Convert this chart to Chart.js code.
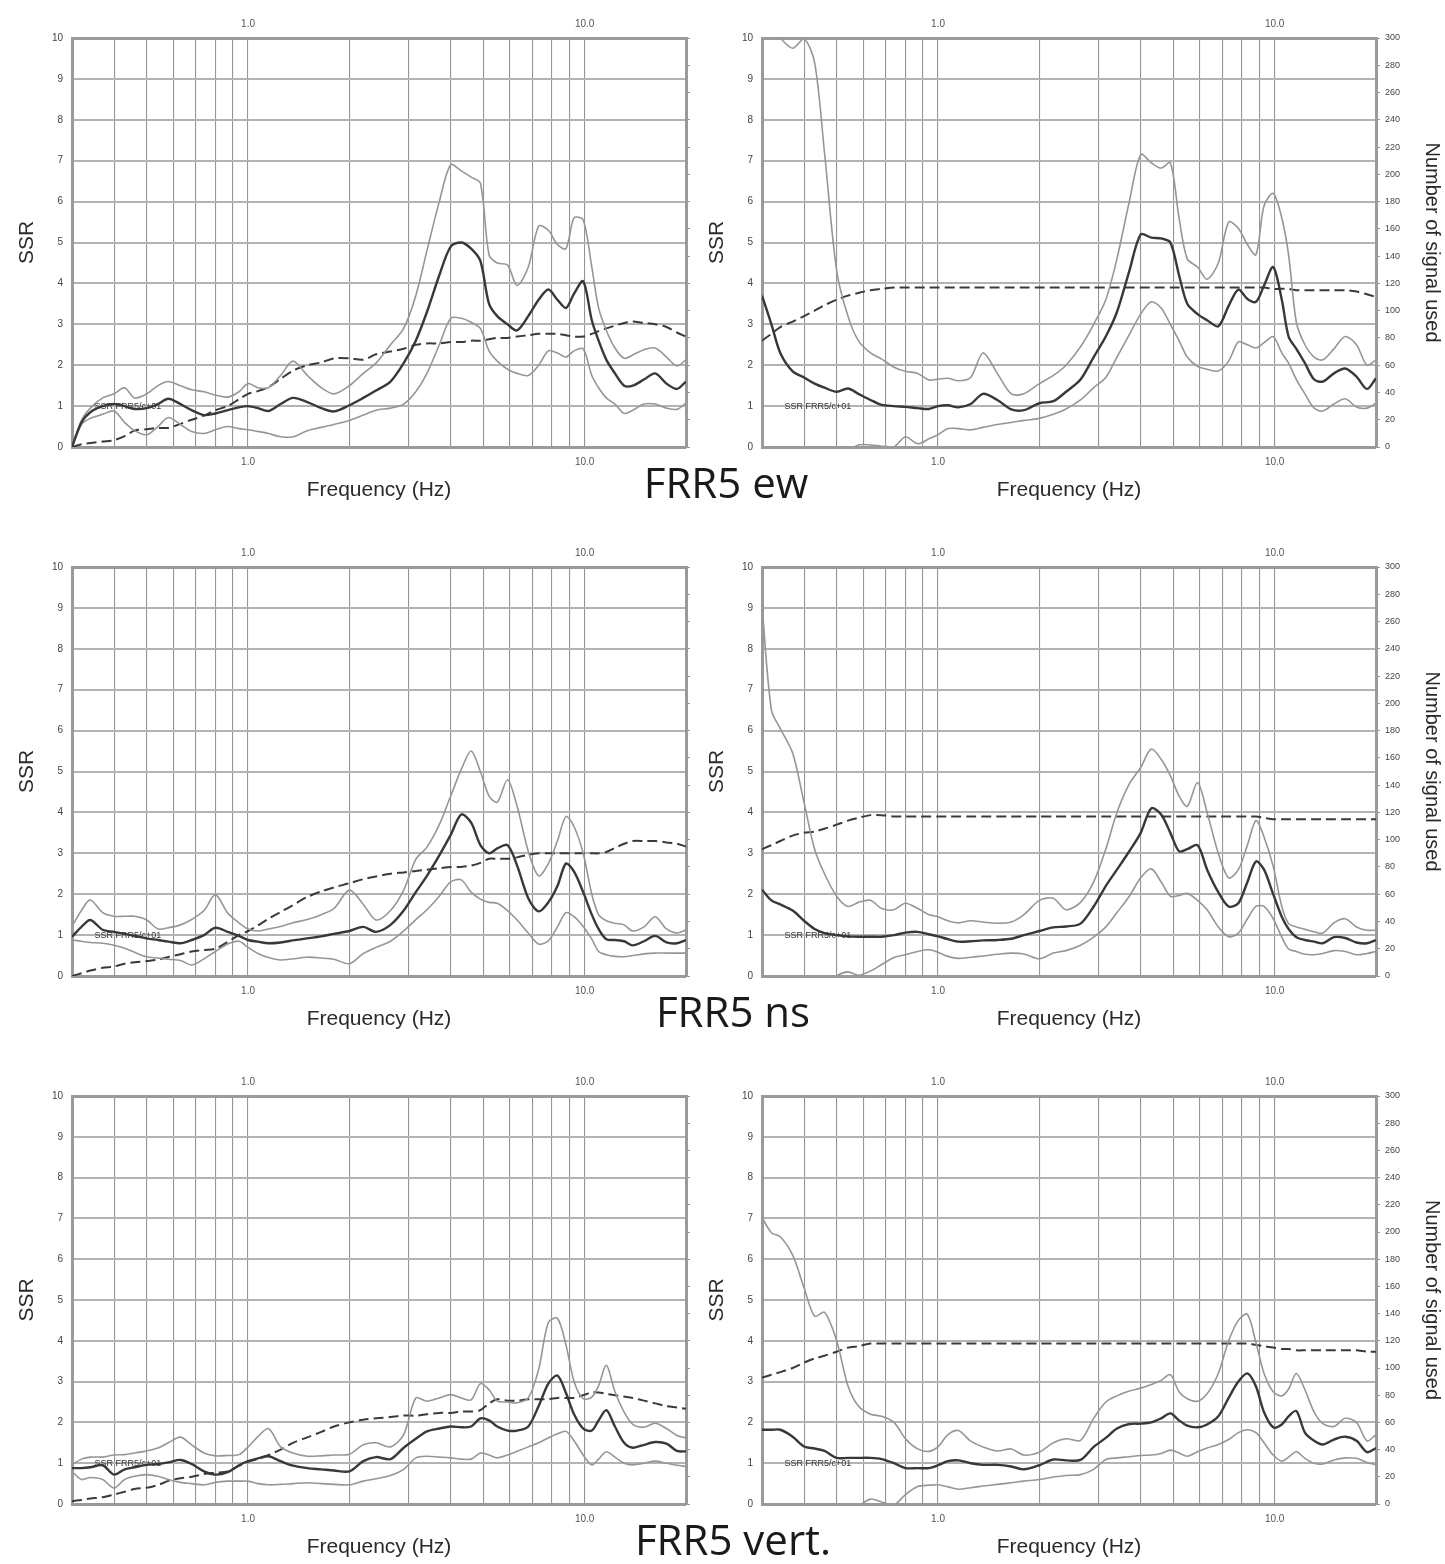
<!DOCTYPE html>
<html>
<head>
<meta charset="utf-8">
<script src="https://cdn.jsdelivr.net/npm/chart.js@4.4.1/dist/chart.umd.min.js"></script>
<style>
  body { margin: 0; background: #fff; width: 1445px; height: 1564px; position: relative; overflow: hidden; }
  canvas { position: absolute; }
  .titulo { position: absolute; font-family: "Open Sans", sans-serif; font-size: 42px; color: #1a1a1a;
            transform: translate(-50%, -50%); white-space: nowrap; }
</style>
</head>
<body>
<canvas id="ewL"></canvas>
<canvas id="ewR"></canvas>
<canvas id="nsL"></canvas>
<canvas id="nsR"></canvas>
<canvas id="vtL"></canvas>
<canvas id="vtR"></canvas>
<div class="titulo" style="left:726px; top:481px;">FRR5 ew</div>
<div class="titulo" style="left:733px; top:1010px;">FRR5 ns</div>
<div class="titulo" style="left:733px; top:1538px;">FRR5 vert.</div>
<script>
// frecuencias (Hz) comunes a todas las curvas
const freq = [0.30, 0.32, 0.34, 0.37, 0.40, 0.43, 0.46, 0.50, 0.54, 0.58,
              0.63, 0.68, 0.74, 0.80, 0.87, 0.94, 1.0, 1.07, 1.15, 1.25,
              1.36, 1.5, 1.65, 1.8, 2.0, 2.2, 2.4, 2.65, 2.9, 3.15,
              3.4, 3.7, 4.0, 4.3, 4.6, 4.9, 5.2, 5.5, 5.9, 6.3,
              6.8, 7.3, 7.8, 8.3, 8.8, 9.3, 9.9, 10.5, 11.0, 11.6,
              12.3, 13.1, 13.9, 15.0, 16.2, 17.5, 18.8, 20.0];

// lineas verticales de la rejilla
const gridFreq = [0.3, 0.4, 0.5, 0.6, 0.7, 0.8, 0.9, 1, 2, 3, 4, 5, 6, 7, 8, 9, 10, 20];
const labelText = 'SSR FRR5/c+01';

// --- FRR5 ew, izquierda ---
const ewLeftHigh = [0, 0.65, 0.95, 1.2, 1.3, 1.45, 1.2, 1.3, 1.5, 1.6,
  1.5, 1.4, 1.35, 1.27, 1.22, 1.35, 1.55, 1.45, 1.45, 1.75,
  2.1, 1.75, 1.45, 1.3, 1.5, 1.8, 2.05, 2.5, 2.9, 3.7,
  4.8, 6.0, 6.9, 6.75, 6.6, 6.45, 4.7, 4.5, 4.45, 3.95,
  4.4, 5.4, 5.3, 4.95, 4.85, 5.6, 5.55, 4.4, 3.4, 2.85,
  2.42, 2.17, 2.25, 2.38, 2.42, 2.2, 1.98, 2.13];
const ewLeftMean = [0, 0.6, 0.85, 1.0, 1.05, 1.0, 0.93, 0.95, 1.05, 1.18,
  1.05, 0.9, 0.78, 0.82, 0.9, 0.97, 1.0, 0.95, 0.88, 1.05,
  1.2, 1.1, 0.95, 0.87, 1.02, 1.2, 1.38, 1.6, 2.05, 2.6,
  3.3, 4.2, 4.9, 5.0, 4.85, 4.55, 3.5, 3.2, 3.0, 2.85,
  3.2, 3.6, 3.85, 3.6, 3.4, 3.75, 4.05, 3.1, 2.6, 2.13,
  1.8, 1.5, 1.5, 1.65, 1.8, 1.55, 1.42, 1.6];
const ewLeftLow = [0, 0.55, 0.7, 0.8, 0.88, 0.6, 0.4, 0.3, 0.5, 0.72,
  0.55, 0.38, 0.33, 0.42, 0.5, 0.45, 0.42, 0.38, 0.33, 0.25,
  0.25, 0.4, 0.48, 0.55, 0.65, 0.78, 0.9, 0.95, 1.05, 1.35,
  1.8, 2.5, 3.15, 3.15, 3.05, 2.9, 2.35, 2.1, 1.9, 1.8,
  1.75, 2.0, 2.35, 2.3, 2.2, 2.35, 2.4, 1.75, 1.45, 1.2,
  1.05, 0.82, 0.9, 1.05, 1.05, 0.95, 0.92, 1.07];
const ewLeftCount = [0, 2, 3, 4, 5, 8, 12, 13, 14, 14,
  17, 20, 23, 27, 30, 35, 39, 41, 44, 50,
  56, 60, 62, 65, 65, 64, 68, 70, 72, 75,
  76, 76, 77, 77, 78, 78, 79, 80, 80, 81,
  82, 83, 83, 83, 82, 81, 81, 83, 85, 87,
  89, 91, 92, 91, 90, 88, 84, 81];

// --- FRR5 ew, derecha ---
const ewRightHigh = [10.3, 10.3, 10.0, 9.75, 9.98, 9.4, 7.2, 4.3, 3.2, 2.6,
  2.3, 2.15, 1.95, 1.85, 1.8, 1.64, 1.66, 1.68, 1.62, 1.7,
  2.3, 1.8, 1.3, 1.3, 1.55, 1.75, 2.0, 2.45, 3.0, 3.6,
  4.6, 6.0, 7.15, 6.95, 6.82, 6.95, 5.6, 4.6, 4.4, 4.1,
  4.5, 5.5, 5.35, 4.95, 4.7, 5.9, 6.2, 5.6, 4.7, 3.05,
  2.5, 2.2, 2.13, 2.4, 2.7, 2.5, 2.0, 2.13];
const ewRightMean = [3.7, 3.0, 2.3, 1.85, 1.7, 1.55, 1.45, 1.35, 1.43, 1.3,
  1.15, 1.03, 1.0, 0.98, 0.95, 0.93, 1.0, 1.02, 0.97, 1.05,
  1.3, 1.15, 0.92, 0.9, 1.07, 1.12, 1.35, 1.65, 2.2, 2.7,
  3.3, 4.3, 5.2, 5.12, 5.1, 5.0, 4.2, 3.5, 3.25, 3.1,
  2.95, 3.45, 3.85, 3.62, 3.55, 3.95, 4.4, 3.6, 2.7, 2.4,
  2.05, 1.65, 1.6, 1.8, 1.92, 1.72, 1.42, 1.68];
const ewRightLow = [-1.2, -1.2, -1.2, -1.2, -1.1, -0.8, -0.5, -0.3, -0.1, 0.05,
  0.05, 0.02, 0.0, 0.25, 0.08, 0.2, 0.3, 0.45, 0.45, 0.42,
  0.48, 0.55, 0.6, 0.65, 0.7, 0.8, 0.93, 1.15, 1.45, 1.7,
  2.2, 2.75, 3.25, 3.55, 3.4, 3.0, 2.6, 2.2, 1.97, 1.9,
  1.86, 2.1, 2.57, 2.5, 2.42, 2.55, 2.7, 2.3, 2.05, 1.65,
  1.3, 0.95, 0.88, 1.05, 1.18, 0.98, 0.95, 1.07];
const ewRightCount = [78, 83, 88, 92, 96, 100, 104, 108, 111, 113,
  115, 116, 117, 117, 117, 117, 117, 117, 117, 117,
  117, 117, 117, 117, 117, 117, 117, 117, 117, 117,
  117, 117, 117, 117, 117, 117, 117, 117, 117, 117,
  117, 117, 117, 117, 117, 117, 116, 116, 116, 115,
  115, 115, 115, 115, 115, 114, 112, 110];

// --- FRR5 ns, izquierda ---
const nsLeftHigh = [1.21, 1.6, 1.86, 1.55, 1.46, 1.46, 1.46, 1.37, 1.15, 1.18,
  1.25, 1.38, 1.6, 1.99, 1.54, 1.3, 1.15, 1.1, 1.15, 1.21,
  1.3, 1.38, 1.5, 1.65, 2.1, 1.75, 1.37, 1.6, 2.1, 2.85,
  3.15, 3.7, 4.4, 5.05, 5.5, 5.0, 4.4, 4.25, 4.8, 4.15,
  3.05, 2.45, 2.75, 3.3, 3.9, 3.65, 3.0, 2.0, 1.5, 1.35,
  1.29, 1.25, 1.1, 1.2, 1.45, 1.15, 1.05, 1.13];
const nsLeftMean = [0.96, 1.2, 1.37, 1.13, 1.08, 1.03, 0.98, 0.92, 0.88, 0.84,
  0.8, 0.88, 1.0, 1.18, 1.08, 0.98, 0.88, 0.84, 0.8, 0.82,
  0.87, 0.92, 0.97, 1.03, 1.1, 1.2, 1.08, 1.25, 1.6, 2.05,
  2.45, 2.95, 3.45, 3.95, 3.75, 3.2, 3.0, 3.12, 3.2, 2.7,
  1.9, 1.58, 1.8, 2.2, 2.75, 2.55, 2.05, 1.5, 1.15, 0.9,
  0.88, 0.85, 0.75, 0.85, 0.98, 0.82, 0.8, 0.88];
const nsLeftLow = [0.88, 0.85, 0.82, 0.8, 0.75, 0.68, 0.58, 0.47, 0.44, 0.41,
  0.38, 0.27, 0.42, 0.6, 0.78, 0.85, 0.7, 0.55, 0.45, 0.39,
  0.42, 0.46, 0.44, 0.41, 0.3, 0.55, 0.7, 0.85, 1.1, 1.38,
  1.62, 1.95, 2.3, 2.35, 2.05, 1.88, 1.8, 1.78, 1.6, 1.37,
  1.05, 0.78, 0.86, 1.2, 1.55, 1.45, 1.21, 0.9, 0.6, 0.52,
  0.48, 0.47, 0.5, 0.54, 0.56, 0.56, 0.56, 0.56];
const nsLeftCount = [0, 2, 4, 6, 7, 9, 10, 11, 12, 14,
  16, 18, 19, 20, 25, 30, 33, 37, 42, 47,
  52, 58, 62, 65, 68, 71, 73, 75, 76, 77,
  78, 79, 80, 80, 81, 83, 86, 86, 86, 87,
  89, 90, 90, 90, 90, 90, 90, 90, 90, 91,
  94, 97, 99, 99, 99, 98, 97, 95];

// --- FRR5 ns, derecha ---
const nsRightHigh = [9.06, 6.5, 6.05, 5.45, 4.24, 3.1, 2.5, 1.95, 1.7, 1.8,
  1.85, 1.65, 1.62, 1.78, 1.65, 1.5, 1.45, 1.35, 1.3, 1.35,
  1.32, 1.29, 1.32, 1.5, 1.85, 1.9, 1.62, 1.8, 2.3, 3.1,
  4.0, 4.7, 5.1, 5.55, 5.3, 4.9, 4.4, 4.15, 4.73, 4.0,
  3.0, 2.4, 2.6, 3.2, 3.8, 3.4, 2.68, 1.7, 1.28, 1.2,
  1.14, 1.08, 1.05, 1.3, 1.4, 1.2, 1.12, 1.12];
const nsRightMean = [2.11, 1.85, 1.75, 1.6, 1.35, 1.15, 1.05, 1.0, 0.97, 0.96,
  0.96, 0.96, 1.0, 1.06, 1.08, 1.02, 0.97, 0.9, 0.84, 0.85,
  0.87, 0.88, 0.91, 1.0, 1.1, 1.19, 1.21, 1.28, 1.7, 2.2,
  2.6, 3.05, 3.5, 4.1, 3.95, 3.5, 3.05, 3.1, 3.2, 2.6,
  2.05, 1.7, 1.78, 2.3, 2.8, 2.6, 2.0, 1.45, 1.15, 0.95,
  0.88, 0.84, 0.8, 0.95, 0.93, 0.82, 0.8, 0.88];
const nsRightLow = [-1.2, -1.2, -1.2, -1.2, -1.0, -0.6, -0.3, 0.0, 0.1, 0.02,
  0.12, 0.28, 0.45, 0.52, 0.6, 0.64, 0.58, 0.48, 0.43, 0.46,
  0.49, 0.53, 0.56, 0.54, 0.42, 0.56, 0.62, 0.75, 0.95, 1.2,
  1.55, 1.95, 2.4, 2.62, 2.3, 1.95, 1.97, 2.02, 1.85, 1.62,
  1.2, 0.96, 1.05, 1.4, 1.7, 1.7, 1.4, 0.95, 0.66, 0.6,
  0.53, 0.52, 0.55, 0.62, 0.6, 0.52, 0.55, 0.6];
const nsRightCount = [93, 96, 99, 103, 105, 106, 108, 111, 114, 116,
  118, 118, 117, 117, 117, 117, 117, 117, 117, 117,
  117, 117, 117, 117, 117, 117, 117, 117, 117, 117,
  117, 117, 117, 117, 117, 117, 117, 117, 117, 117,
  117, 117, 117, 117, 117, 116, 115, 115, 115, 115,
  115, 115, 115, 115, 115, 115, 115, 115];

// --- FRR5 vert., izquierda ---
const vtLeftHigh = [0.96, 1.1, 1.15, 1.15, 1.2, 1.21, 1.25, 1.3, 1.37, 1.5,
  1.64, 1.45, 1.25, 1.18, 1.19, 1.21, 1.4, 1.65, 1.85, 1.4,
  1.25, 1.17, 1.18, 1.2, 1.22, 1.45, 1.5, 1.4, 1.7, 2.6,
  2.52, 2.6, 2.68, 2.6, 2.55, 2.95, 2.8, 2.52, 2.5, 2.48,
  2.6, 3.3, 4.45, 4.55, 3.9, 3.0, 2.58, 2.62, 2.9, 3.4,
  2.75, 2.25, 1.95, 1.88, 1.98, 1.85, 1.68, 1.62];
const vtLeftMean = [0.88, 0.88, 0.9, 0.95, 0.72, 0.85, 0.9, 0.96, 0.98, 1.02,
  1.08, 0.98, 0.8, 0.72, 0.78, 0.95, 1.05, 1.12, 1.17, 1.05,
  0.94, 0.88, 0.85, 0.82, 0.8, 1.05, 1.15, 1.1, 1.38, 1.6,
  1.78, 1.85, 1.9, 1.88, 1.9, 2.1, 2.05, 1.9, 1.8, 1.8,
  1.9, 2.4, 2.95, 3.15, 2.72, 2.2, 1.85, 1.8, 2.05, 2.3,
  1.9, 1.5, 1.38, 1.45, 1.52, 1.48, 1.3, 1.29];
const vtLeftLow = [0.8, 0.6, 0.65, 0.6, 0.39, 0.6, 0.68, 0.72, 0.68, 0.6,
  0.53, 0.5, 0.47, 0.53, 0.56, 0.56, 0.56, 0.5, 0.47, 0.48,
  0.5, 0.52, 0.5, 0.48, 0.47, 0.56, 0.62, 0.7, 0.85, 1.13,
  1.17, 1.15, 1.13, 1.1, 1.1, 1.25, 1.2, 1.13, 1.2, 1.29,
  1.4, 1.5, 1.62, 1.72, 1.78, 1.55, 1.2, 0.96, 1.1, 1.28,
  1.15, 1.0, 0.96, 1.0, 1.05, 1.0, 0.95, 0.92];
const vtLeftCount = [2, 3, 4, 5, 7, 9, 11, 12, 14, 17,
  19, 20, 22, 23, 24, 28, 31, 33, 36, 40,
  45, 49, 53, 57, 60, 62, 63, 64, 65, 65,
  66, 67, 67, 68, 68, 69, 74, 77, 76, 76,
  77, 77, 77, 78, 78, 78, 80, 82, 82, 81,
  80, 79, 78, 76, 74, 72, 71, 70];

// --- FRR5 vert., derecha ---
const vtRightHigh = [7.02, 6.65, 6.55, 6.1, 5.3, 4.6, 4.7, 4.0, 2.9, 2.4,
  2.2, 2.15, 2.0, 1.6, 1.35, 1.29, 1.4, 1.7, 1.8, 1.54,
  1.4, 1.3, 1.35, 1.2, 1.27, 1.5, 1.6, 1.56, 2.1, 2.5,
  2.65, 2.77, 2.84, 2.93, 3.03, 3.17, 2.75, 2.58, 2.52, 2.7,
  3.2, 4.0, 4.5, 4.65, 3.95, 3.2, 2.75, 2.65, 2.82, 3.2,
  2.8, 2.25, 1.97, 1.9, 2.1, 2.0, 1.55, 1.7];
const vtRightMean = [1.82, 1.82, 1.82, 1.65, 1.41, 1.36, 1.3, 1.13, 1.13, 1.13,
  1.13, 1.1, 1.0, 0.88, 0.88, 0.88, 0.95, 1.05, 1.07, 1.0,
  0.96, 0.96, 0.92, 0.85, 0.95, 1.09, 1.07, 1.08, 1.4, 1.62,
  1.85, 1.96, 1.97, 2.0, 2.1, 2.22, 2.05, 1.92, 1.88, 1.95,
  2.15, 2.6, 3.0, 3.2, 2.88, 2.25, 1.88, 1.95, 2.15, 2.28,
  1.75, 1.55, 1.46, 1.58, 1.65, 1.55, 1.27, 1.37];
const vtRightLow = [-1.5, -1.4, -1.3, -1.2, -1.0, -0.8, -0.6, -0.4, -0.2, -0.05,
  0.12, 0.05, -0.02, 0.23, 0.43, 0.46, 0.47, 0.42, 0.36, 0.4,
  0.44, 0.48, 0.52, 0.56, 0.6, 0.66, 0.7, 0.72, 0.85, 1.09,
  1.13, 1.16, 1.19, 1.2, 1.24, 1.32, 1.25, 1.17, 1.28, 1.37,
  1.46, 1.58, 1.75, 1.82, 1.75, 1.5, 1.2, 1.05, 1.15, 1.28,
  1.12, 1.0, 0.98, 1.08, 1.13, 1.12, 1.02, 0.96];
const vtRightCount = [93, 95, 97, 100, 104, 107, 109, 112, 115, 116,
  118, 118, 118, 118, 118, 118, 118, 118, 118, 118,
  118, 118, 118, 118, 118, 118, 118, 118, 118, 118,
  118, 118, 118, 118, 118, 118, 118, 118, 118, 118,
  118, 118, 118, 118, 117, 116, 115, 114, 114, 113,
  113, 113, 113, 113, 113, 113, 112, 112];

const FONT = '"Liberation Sans", Arial, sans-serif';
const borderStyle = { color: '#9a9a9a', width: 3 };

// geometria de las filas y columnas (pixeles)
const rows = [
  { top: 0, head: 38, height: 505 },
  { top: 528, head: 39, height: 506 },
  { top: 1058, head: 38, height: 504 }
];
const cols = {
  L: { left: 0, width: 720, yl: 72, yr: 34, titlePad: 15 },
  R: { left: 700, width: 745, yl: 62, yr: 69, titlePad: 5 }
};

function pts(arr) {
  return freq.map((f, i) => ({ x: f, y: arr[i] }));
}

// texto de la estacion sobre la linea SSR = 1
const stationLabel = {
  id: 'stationLabel',
  beforeDatasetsDraw(chart) {
    const { ctx, scales } = chart;
    ctx.save();
    ctx.font = '9px ' + FONT;
    ctx.fillStyle = '#333';
    ctx.textBaseline = 'middle';
    ctx.fillText(labelText, scales.x.getPixelForValue(0.35), scales.y.getPixelForValue(1));
    ctx.restore();
  }
};

function panel(id, side, row, high, mean, low, count) {
  const c = cols[side];
  const r = rows[row];
  const isLeft = side === 'L';
  const cv = document.getElementById(id);
  cv.width = c.width;
  cv.height = r.height;
  cv.style.left = c.left + 'px';
  cv.style.top = r.top + 'px';

  new Chart(cv, {
    type: 'line',
    data: {
      datasets: [
        { data: pts(mean), borderColor: '#383838', borderWidth: 2.4, yAxisID: 'y' },
        { data: pts(high), borderColor: '#969696', borderWidth: 1.6, yAxisID: 'y' },
        { data: pts(low), borderColor: '#969696', borderWidth: 1.6, yAxisID: 'y' },
        { data: pts(count), borderColor: '#3a3a3a', borderWidth: 2, borderDash: [10, 5], yAxisID: 'y2' }
      ]
    },
    options: {
      responsive: false,
      animation: false,
      devicePixelRatio: 1,
      layout: { padding: 0 },
      elements: { point: { radius: 0 }, line: { tension: 0.3 } },
      plugins: { legend: { display: false }, tooltip: { enabled: false } },
      scales: {
        x: {
          type: 'logarithmic', position: 'bottom', min: 0.3, max: 20,
          afterBuildTicks: s => { s.ticks = gridFreq.map(v => ({ value: v })); },
          afterFit: s => { s.height = 58; },
          grid: { color: '#959595', lineWidth: 1.1, drawTicks: false },
          border: borderStyle,
          ticks: {
            autoSkip: false, maxRotation: 0, padding: 9, color: '#555',
            font: { size: 10, family: FONT },
            callback: v => v === 1 ? '1.0' : v === 10 ? '10.0' : ''
          },
          title: {
            display: true, text: 'Frequency (Hz)', color: '#2a2a2a',
            font: { size: 21, family: FONT }, padding: { top: 0, bottom: 2 }
          }
        },
        xt: {
          type: 'logarithmic', position: 'top', min: 0.3, max: 20,
          afterBuildTicks: s => { s.ticks = [{ value: 1 }, { value: 10 }]; },
          afterFit: s => { s.height = r.head; },
          grid: { display: false, drawTicks: false },
          border: borderStyle,
          ticks: {
            autoSkip: false, maxRotation: 0, padding: 8, color: '#555',
            font: { size: 10, family: FONT },
            callback: v => v === 1 ? '1.0' : '10.0'
          }
        },
        y: {
          position: 'left', min: 0, max: 10,
          afterFit: s => { s.width = c.yl; },
          grid: { color: '#b3b3b3', lineWidth: 2, drawTicks: false },
          border: borderStyle,
          ticks: { stepSize: 1, padding: 9, color: '#444', font: { size: 10, family: FONT } },
          title: {
            display: true, text: 'SSR', color: '#2a2a2a',
            font: { size: 21, family: FONT }, padding: { top: c.titlePad, bottom: 0 }
          }
        },
        y2: {
          position: 'right', min: 0, max: 300,
          afterFit: s => { s.width = c.yr; },
          grid: { drawOnChartArea: false, drawTicks: true, tickLength: 4, color: '#999' },
          border: borderStyle,
          ticks: { stepSize: 20, display: !isLeft, padding: 5, color: '#444', font: { size: 9, family: FONT } },
          title: {
            display: !isLeft, text: 'Number of signal used', color: '#2a2a2a',
            font: { size: 20, family: FONT }, padding: { top: 1, bottom: 0 }
          }
        }
      }
    },
    plugins: [stationLabel]
  });
}

panel('ewL', 'L', 0, ewLeftHigh, ewLeftMean, ewLeftLow, ewLeftCount);
panel('ewR', 'R', 0, ewRightHigh, ewRightMean, ewRightLow, ewRightCount);
panel('nsL', 'L', 1, nsLeftHigh, nsLeftMean, nsLeftLow, nsLeftCount);
panel('nsR', 'R', 1, nsRightHigh, nsRightMean, nsRightLow, nsRightCount);
panel('vtL', 'L', 2, vtLeftHigh, vtLeftMean, vtLeftLow, vtLeftCount);
panel('vtR', 'R', 2, vtRightHigh, vtRightMean, vtRightLow, vtRightCount);
</script>
</body>
</html>
